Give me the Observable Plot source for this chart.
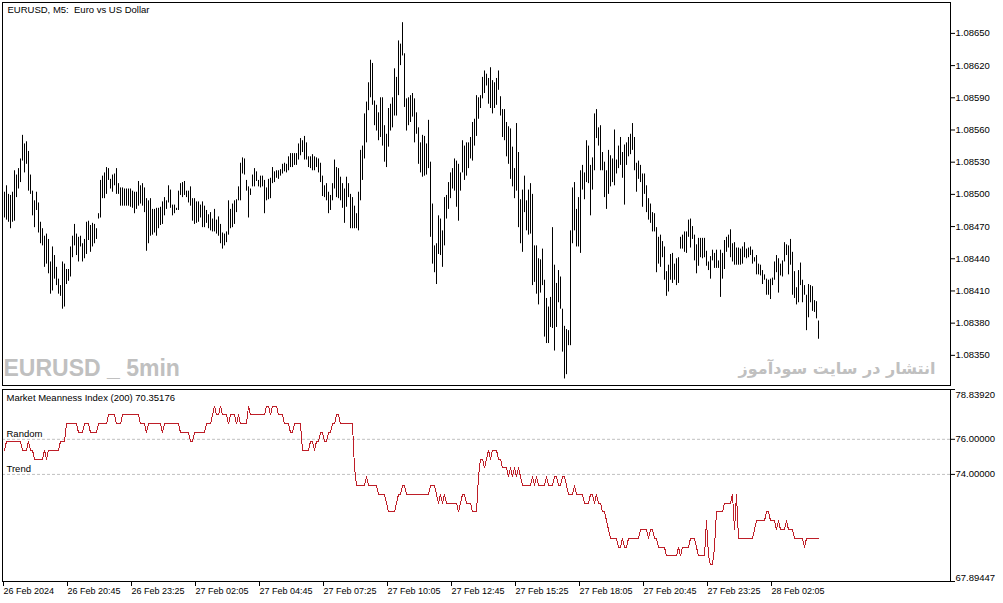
<!DOCTYPE html>
<html>
<head>
<meta charset="utf-8">
<script src="https://cdn.jsdelivr.net/npm/d3@7"></script>
<script src="https://cdn.jsdelivr.net/npm/@observablehq/plot@0.6"></script>
<style>
  body { margin: 0; background: #fff; }
  #chart svg { display: block; }
</style>
</head>
<body>
<div id="chart"></div>
<script>
// texts
const symbolTitle = "EURUSD, M5:\u00a0 Euro vs US Dollar";
const indicatorTitle = "Market Meanness Index (200) 70.35176";
const watermarkLeft = "EURUSD _ 5min";
const watermarkRight = "انتشار در سایت سودآموز";

// M5 bars (bar 1 = 26 Feb 18:10)
const highs = [
  1.08502,1.08508,1.08500,1.08499,1.08502,1.08522,1.08518,1.08524,1.08533,1.08555,1.08547,1.08549,1.08540,1.08518,1.08503,1.08494,1.08502,1.08492,1.08474,1.08468,
  1.08461,1.08463,1.08458,1.08437,1.08451,1.08443,1.08432,1.08421,1.08415,1.08437,1.08435,1.08430,1.08430,1.08451,1.08461,1.08472,1.08463,1.08460,1.08461,1.08454,
  1.08458,1.08474,1.08475,1.08471,1.08473,1.08472,1.08468,1.08482,1.08513,1.08517,1.08520,1.08525,1.08524,1.08514,1.08518,1.08519,1.08524,1.08510,1.08506,1.08506,
  1.08505,1.08505,1.08505,1.08505,1.08503,1.08502,1.08502,1.08512,1.08508,1.08510,1.08506,1.08496,1.08494,1.08496,1.08486,1.08486,1.08487,1.08487,1.08488,1.08493,
  1.08497,1.08494,1.08508,1.08504,1.08490,1.08490,1.08487,1.08503,1.08510,1.08511,1.08512,1.08503,1.08503,1.08507,1.08496,1.08496,1.08493,1.08493,1.08490,1.08493,
  1.08489,1.08485,1.08481,1.08483,1.08477,1.08486,1.08476,1.08479,1.08472,1.08464,1.08463,1.08465,1.08494,1.08486,1.08491,1.08494,1.08495,1.08507,1.08529,1.08534,
  1.08533,1.08513,1.08507,1.08505,1.08518,1.08524,1.08521,1.08513,1.08517,1.08517,1.08513,1.08506,1.08514,1.08515,1.08525,1.08521,1.08522,1.08522,1.08523,1.08528,
  1.08529,1.08528,1.08535,1.08538,1.08538,1.08538,1.08538,1.08547,1.08552,1.08550,1.08554,1.08548,1.08535,1.08535,1.08537,1.08535,1.08534,1.08533,1.08529,1.08517,
  1.08508,1.08510,1.08502,1.08499,1.08510,1.08532,1.08525,1.08524,1.08516,1.08510,1.08505,1.08516,1.08510,1.08500,1.08497,1.08489,1.08482,1.08502,1.08541,1.08545,
  1.08575,1.08586,1.08604,1.08625,1.08622,1.08587,1.08583,1.08576,1.08590,1.08590,1.08564,1.08556,1.08580,1.08584,1.08590,1.08617,1.08609,1.08643,1.08640,1.08660,
  1.08631,1.08589,1.08590,1.08592,1.08594,1.08589,1.08576,1.08562,1.08548,1.08555,1.08554,1.08547,1.08569,1.08530,1.08491,1.08452,1.08454,1.08480,1.08477,1.08466,
  1.08497,1.08499,1.08511,1.08520,1.08524,1.08533,1.08531,1.08528,1.08520,1.08550,1.08545,1.08548,1.08548,1.08553,1.08567,1.08570,1.08592,1.08590,1.08592,1.08609,
  1.08615,1.08612,1.08608,1.08618,1.08606,1.08604,1.08608,1.08615,1.08591,1.08579,1.08579,1.08567,1.08563,1.08561,1.08544,1.08524,1.08566,1.08539,1.08495,1.08504,
  1.08517,1.08494,1.08504,1.08510,1.08500,1.08452,1.08452,1.08440,1.08439,1.08449,1.08420,1.08403,1.08395,1.08404,1.08469,1.08434,1.08417,1.08429,1.08423,1.08393,
  1.08377,1.08374,1.08373,1.08466,1.08506,1.08511,1.08486,1.08497,1.08522,1.08527,1.08520,1.08550,1.08545,1.08527,1.08534,1.08575,1.08579,1.08562,1.08564,1.08539,
  1.08530,1.08522,1.08541,1.08536,1.08533,1.08560,1.08532,1.08545,1.08553,1.08539,1.08546,1.08548,1.08553,1.08556,1.08566,1.08553,1.08529,1.08531,1.08527,1.08519,
  1.08519,1.08508,1.08496,1.08491,1.08483,1.08482,1.08469,1.08460,1.08462,1.08456,1.08451,1.08428,1.08434,1.08444,1.08445,1.08435,1.08440,1.08441,1.08460,1.08462,
  1.08465,1.08465,1.08476,1.08477,1.08470,1.08462,1.08453,1.08459,1.08459,1.08459,1.08459,1.08447,1.08437,1.08442,1.08448,1.08445,1.08448,1.08438,1.08448,1.08445,
  1.08457,1.08460,1.08462,1.08467,1.08454,1.08455,1.08450,1.08450,1.08449,1.08451,1.08455,1.08449,1.08450,1.08451,1.08448,1.08441,1.08443,1.08435,1.08434,1.08429,
  1.08425,1.08421,1.08420,1.08421,1.08422,1.08437,1.08443,1.08440,1.08435,1.08438,1.08455,1.08453,1.08452,1.08458,1.08446,1.08428,1.08413,1.08429,1.08436,1.08420,
  1.08415,1.08406,1.08416,1.08415,1.08414,1.08401,1.08400,1.08382
];
const lows = [
  1.08478,1.08476,1.08474,1.08468,1.08474,1.08475,1.08497,1.08505,1.08511,1.08531,1.08520,1.08528,1.08503,1.08500,1.08480,1.08469,1.08485,1.08464,1.08454,1.08452,
  1.08432,1.08435,1.08426,1.08407,1.08410,1.08421,1.08415,1.08407,1.08405,1.08393,1.08395,1.08416,1.08419,1.08423,1.08441,1.08452,1.08443,1.08437,1.08451,1.08437,
  1.08440,1.08444,1.08457,1.08446,1.08451,1.08454,1.08458,1.08477,1.08478,1.08496,1.08496,1.08500,1.08513,1.08505,1.08502,1.08508,1.08500,1.08500,1.08489,1.08489,
  1.08489,1.08489,1.08489,1.08488,1.08487,1.08482,1.08486,1.08489,1.08491,1.08489,1.08483,1.08447,1.08454,1.08461,1.08462,1.08464,1.08461,1.08468,1.08471,1.08472,
  1.08480,1.08486,1.08492,1.08487,1.08480,1.08482,1.08485,1.08485,1.08499,1.08497,1.08499,1.08497,1.08492,1.08489,1.08475,1.08472,1.08473,1.08474,1.08478,1.08469,
  1.08469,1.08473,1.08468,1.08466,1.08465,1.08465,1.08463,1.08461,1.08454,1.08449,1.08452,1.08455,1.08462,1.08468,1.08469,1.08472,1.08483,1.08494,1.08494,1.08519,
  1.08518,1.08503,1.08478,1.08499,1.08507,1.08507,1.08512,1.08507,1.08506,1.08507,1.08482,1.08494,1.08495,1.08496,1.08510,1.08511,1.08515,1.08514,1.08517,1.08519,
  1.08521,1.08520,1.08522,1.08525,1.08525,1.08527,1.08527,1.08532,1.08536,1.08539,1.08532,1.08532,1.08525,1.08524,1.08522,1.08522,1.08525,1.08520,1.08511,1.08498,
  1.08497,1.08494,1.08482,1.08485,1.08494,1.08505,1.08497,1.08496,1.08494,1.08487,1.08473,1.08488,1.08497,1.08468,1.08468,1.08468,1.08468,1.08466,1.08494,1.08513,
  1.08533,1.08548,1.08578,1.08590,1.08583,1.08564,1.08559,1.08550,1.08553,1.08545,1.08530,1.08525,1.08544,1.08559,1.08562,1.08573,1.08573,1.08592,1.08620,1.08629,
  1.08581,1.08559,1.08564,1.08567,1.08572,1.08548,1.08556,1.08528,1.08520,1.08516,1.08517,1.08518,1.08524,1.08460,1.08435,1.08427,1.08416,1.08444,1.08443,1.08432,
  1.08452,1.08477,1.08486,1.08496,1.08505,1.08503,1.08488,1.08475,1.08503,1.08520,1.08513,1.08517,1.08524,1.08533,1.08531,1.08545,1.08554,1.08570,1.08580,1.08589,
  1.08594,1.08601,1.08584,1.08580,1.08575,1.08580,1.08583,1.08597,1.08573,1.08553,1.08550,1.08535,1.08528,1.08514,1.08507,1.08496,1.08503,1.08469,1.08454,1.08446,
  1.08483,1.08466,1.08462,1.08463,1.08415,1.08418,1.08407,1.08397,1.08408,1.08415,1.08367,1.08361,1.08361,1.08376,1.08375,1.08354,1.08376,1.08399,1.08393,1.08353,
  1.08328,1.08332,1.08359,1.08359,1.08454,1.08466,1.08451,1.08451,1.08445,1.08504,1.08495,1.08511,1.08510,1.08480,1.08504,1.08522,1.08552,1.08545,1.08522,1.08522,
  1.08497,1.08486,1.08500,1.08507,1.08511,1.08508,1.08519,1.08524,1.08527,1.08515,1.08490,1.08527,1.08535,1.08537,1.08541,1.08522,1.08502,1.08514,1.08511,1.08488,
  1.08500,1.08483,1.08476,1.08473,1.08465,1.08465,1.08427,1.08435,1.08432,1.08441,1.08420,1.08405,1.08409,1.08420,1.08417,1.08420,1.08415,1.08417,1.08449,1.08449,
  1.08446,1.08445,1.08460,1.08450,1.08458,1.08438,1.08426,1.08433,1.08441,1.08440,1.08441,1.08433,1.08429,1.08421,1.08438,1.08431,1.08431,1.08431,1.08404,1.08421,
  1.08430,1.08446,1.08450,1.08441,1.08437,1.08434,1.08434,1.08434,1.08434,1.08435,1.08441,1.08440,1.08441,1.08443,1.08435,1.08437,1.08425,1.08425,1.08424,1.08416,
  1.08420,1.08406,1.08406,1.08402,1.08415,1.08420,1.08427,1.08408,1.08424,1.08423,1.08437,1.08443,1.08425,1.08434,1.08406,1.08403,1.08397,1.08399,1.08415,1.08399,
  1.08406,1.08373,1.08385,1.08399,1.08391,1.08390,1.08384,1.08365
];
// Market Meanness Index (200), one value per bar
const mmi = [
  75.38,75.88,75.88,75.88,75.88,75.88,75.88,75.88,75.88,75.38,75.38,75.38,75.88,75.38,75.38,74.87,74.87,74.87,74.87,74.87,
  75.38,74.87,75.38,75.38,75.38,75.38,75.38,75.38,75.88,75.88,75.88,76.88,76.88,76.88,76.88,76.88,76.88,76.38,76.38,76.38,
  76.88,76.88,76.88,76.38,76.38,76.38,76.38,76.88,76.88,76.88,76.88,76.88,77.39,77.39,77.39,77.39,76.88,76.88,76.88,77.39,
  77.39,77.39,77.39,77.39,77.39,77.39,77.39,77.39,76.88,76.88,76.88,76.38,76.88,76.88,76.88,76.88,76.88,76.88,76.88,76.38,
  76.88,76.88,76.88,76.88,76.88,76.88,76.88,76.88,76.38,76.38,76.38,76.38,76.38,75.88,75.88,76.38,76.38,76.38,76.38,76.38,
  76.38,76.88,76.88,76.88,77.39,77.89,77.39,77.39,77.89,77.39,77.39,77.39,76.88,77.39,77.39,77.39,76.88,77.39,76.88,76.88,
  76.88,76.88,77.89,77.39,77.39,77.39,77.39,77.39,77.39,77.39,77.39,77.89,77.89,77.39,77.89,77.89,77.89,77.39,77.39,77.39,
  76.88,76.88,76.88,76.38,76.38,76.88,76.88,76.88,76.88,75.38,75.38,75.38,75.38,75.88,75.88,75.38,75.88,75.88,76.38,76.38,
  75.88,75.88,76.38,76.38,76.88,76.88,77.39,77.39,76.88,76.88,76.88,76.88,76.88,76.88,76.88,74.37,73.37,73.37,73.37,73.37,
  73.37,73.87,73.37,73.37,73.37,73.37,73.37,72.86,72.86,72.86,72.86,72.36,71.86,71.86,71.86,71.86,72.36,72.86,72.86,73.37,
  73.37,72.86,72.86,72.86,72.86,72.86,72.86,72.86,72.86,72.86,72.86,72.86,72.86,73.37,73.37,73.37,72.86,72.36,72.86,72.36,
  72.86,72.36,72.36,72.36,72.36,72.36,72.36,71.86,72.36,72.86,72.86,72.36,72.36,72.36,71.86,71.86,71.86,73.87,74.87,74.87,
  74.37,74.87,75.38,74.87,75.38,75.38,75.38,74.87,74.87,74.37,74.37,74.37,73.87,74.37,73.87,74.37,73.87,74.37,73.87,73.37,
  73.37,73.37,73.37,73.37,73.87,73.37,73.87,73.37,73.37,73.37,73.37,73.87,73.37,73.37,73.37,73.87,73.87,73.37,73.37,73.87,
  73.87,73.37,72.86,72.86,72.86,73.37,72.86,72.86,72.86,72.86,72.36,72.36,72.36,72.86,72.86,72.36,72.86,72.36,72.36,71.86,
  71.86,71.36,70.85,70.35,70.35,70.35,70.35,69.85,69.85,70.35,69.85,69.85,70.35,70.35,70.35,70.35,70.35,70.35,70.85,70.85,
  70.85,70.85,70.35,70.85,70.85,70.35,70.35,69.85,69.85,69.85,69.85,69.35,69.35,69.35,69.35,69.35,69.35,69.85,69.35,69.85,
  69.85,69.85,69.85,70.35,70.35,70.35,69.85,69.35,69.35,69.35,69.35,71.36,69.35,68.84,68.84,69.85,71.86,71.86,71.86,71.86,
  72.36,72.36,72.36,72.36,72.86,70.85,72.86,70.35,70.35,70.35,70.35,70.35,70.35,70.35,70.35,70.85,71.36,71.36,71.36,71.36,
  71.36,71.86,71.86,71.36,71.36,71.36,70.85,71.36,70.85,70.85,70.85,71.36,70.85,70.85,70.85,70.35,70.35,70.35,70.35,70.35,
  69.85,70.35,70.35,70.35,70.35,70.35,70.35,70.35
];

// axes
const priceTicks = [1.08350, 1.08380, 1.08410, 1.08440, 1.08470, 1.08500, 1.08530, 1.08560, 1.08590, 1.08620, 1.08650];
const priceRange = [1.083219, 1.086788];
const mmiLevels = [76, 74];
const mmiLevelNames = ["Random", "Trend"];
const mmiRange = [67.89447, 78.83920];
const timeTickBars = [0, 32, 64, 96, 128, 160, 192, 224, 256, 288, 320, 352, 384];
const timeTickLabels = ["26 Feb 2024", "26 Feb 20:45", "26 Feb 23:25", "27 Feb 02:05", "27 Feb 04:45",
  "27 Feb 07:25", "27 Feb 10:05", "27 Feb 12:45", "27 Feb 15:25", "27 Feb 18:05",
  "27 Feb 20:45", "27 Feb 23:25", "28 Feb 02:05"];

const bars = highs.map((h, k) => ({i: k + 1, high: h, low: lows[k], mmi: mmi[k]}));
const levels = mmiLevels.map((v, k) => ({v, name: mmiLevelNames[k]}));

const font = "'Liberation Sans', Arial, sans-serif";
const baseStyle = {fontFamily: font, fontSize: "9.5px", color: "#000", background: "#fff"};

const priceChart = Plot.plot({
  width: 1003,
  height: 387,
  marginLeft: 2,
  marginRight: 53,
  marginTop: 2,
  marginBottom: 2,
  style: baseStyle,
  x: {domain: [0, 474], axis: null},
  y: {domain: priceRange, label: null},
  marks: [
    Plot.axisY({ticks: priceTicks, anchor: "right", tickSize: 4, tickPadding: 1, label: null,
      tickFormat: d => d.toFixed(5)}),
    Plot.ruleX(bars, {x: "i", y1: "low", y2: "high", stroke: "#000", strokeWidth: 1}),
    Plot.text([symbolTitle], {frameAnchor: "top-left", dx: 5, dy: 4, fill: "#000"}),
    Plot.text([watermarkLeft], {frameAnchor: "bottom-left", lineAnchor: "bottom", dx: 1, dy: -10,
      fill: "#c0c0c0", fontSize: 23, fontWeight: "bold", fontFamily: font}),
    Plot.text([watermarkRight], {frameAnchor: "bottom-right", lineAnchor: "bottom", dx: -15, dy: -12,
      fill: "#c0c0c0", fontSize: 16, fontWeight: "bold", fontFamily: "'DejaVu Sans', sans-serif"}),
    Plot.frame({stroke: "#000"})
  ]
});

const mmiChart = Plot.plot({
  width: 1003,
  height: 216,
  marginLeft: 2,
  marginRight: 53,
  marginTop: 2,
  marginBottom: 22,
  style: baseStyle,
  x: {domain: [0, 474], label: null},
  y: {domain: mmiRange, label: null},
  marks: [
    Plot.ruleY(mmiLevels, {stroke: "#c0c0c0", strokeDasharray: "3,2"}),
    Plot.axisY({ticks: mmiLevels, anchor: "right", tickSize: 4, tickPadding: 1, label: null,
      tickFormat: d => d.toFixed(5)}),
    Plot.axisY({ticks: mmiRange, anchor: "right", tickSize: 4, label: null, tickFormat: () => ""}),
    Plot.text([mmiRange[1]], {y: d => d, frameAnchor: "right", textAnchor: "start", dx: 5, dy: 5,
      text: d => d.toFixed(5)}),
    Plot.text([mmiRange[0]], {y: d => d, frameAnchor: "right", textAnchor: "start", dx: 5, dy: -4,
      text: d => d.toFixed(5)}),
    Plot.axisX({ticks: timeTickBars, anchor: "bottom", tickSize: 5, tickPadding: 1, label: null,
      textAnchor: "start", dx: 1, fontSize: 9,
      tickFormat: d => timeTickLabels[timeTickBars.indexOf(d)]}),
    Plot.line(bars, {x: "i", y: "mmi", stroke: "#be1e28", strokeWidth: 1, shapeRendering: "crispEdges"}),
    Plot.text([indicatorTitle], {frameAnchor: "top-left", dx: 4, dy: 5, fill: "#000"}),
    Plot.text(levels, {y: "v", text: "name", frameAnchor: "left", textAnchor: "start",
      lineAnchor: "bottom", dx: 4, dy: -2, fill: "#000"}),
    Plot.frame({stroke: "#000"})
  ]
});

const container = d3.select("#chart");
container.append(() => priceChart);
container.append(() => mmiChart);
</script>
</body>
</html>
